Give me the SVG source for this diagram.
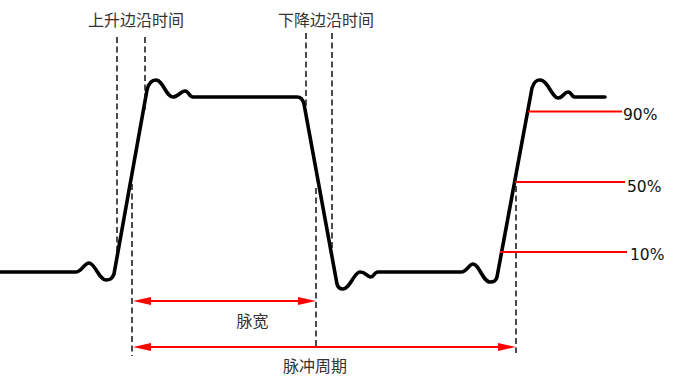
<svg xmlns="http://www.w3.org/2000/svg" width="680" height="381" viewBox="0 0 680 381">
<style>
.wave{fill:none;stroke:#000;stroke-width:3.6;stroke-linejoin:round;stroke-linecap:round}
.dash{fill:none;stroke:#111;stroke-width:1.5;stroke-dasharray:6 3.5}
.red{fill:none;stroke:#f00;stroke-width:2}
.cn{font-family:"Noto Sans CJK SC","Noto Sans CJK JP",sans-serif;font-size:16px;fill:#333}
.pct{font-family:"DejaVu Sans","Liberation Sans",sans-serif;font-size:15.5px;fill:#111}
</style>
<defs>
<marker id="ah" viewBox="0 0 18 8" refX="8" refY="4" markerWidth="18" markerHeight="8" markerUnits="userSpaceOnUse" orient="auto-start-reverse">
<path d="M0,0 L18,4 L0,8 Z" fill="#f00"/>
</marker>
</defs>
<g id="waveform">
<path class="wave" d="M0,272 L76,272 C82,272 84,263 89,263 C95,263 99,280 106,280 C110,280 112,279 114,274 L147,90 C149,82 152,80 156,80 C163,80 166,97 173,97 C178,97 181,91 185,91 C189,91 189,97 193,97 L297,97 C301,97 303,100 304,104 L337,284 C338,288 340,289 343,289 C350,289 354,272 360,272 C366,272 367,277 371,277 C374,277 374,272 378,272 L461,272 C467,272 469,264 473,264 C479,264 483,282 490,282 C494,282 496,281 497,277 L532,88 C534,82 536,80 540,80 C548,80 552,98 558,98 C563,98 564,92 568,92 C572,92 571,97 575,97 L605,97"/>
</g>
<g id="guides">
<line class="dash" x1="117" y1="37" x2="117" y2="255"/>
<line class="dash" x1="145" y1="37" x2="145" y2="110"/>
<line class="dash" x1="306" y1="33" x2="306" y2="108"/>
<line class="dash" x1="332" y1="33" x2="332" y2="253"/>
<line class="dash" x1="132" y1="184" x2="132" y2="356"/>
<line class="dash" x1="316" y1="188" x2="316" y2="346"/>
<line class="dash" x1="516" y1="186" x2="516" y2="353"/>
</g>
<g id="levels">
<line class="red" x1="528" y1="111.5" x2="622" y2="111.5"/>
<line class="red" x1="515" y1="182" x2="625" y2="182"/>
<line class="red" x1="500" y1="252" x2="627" y2="252"/>
</g>
<g id="connectors">
<line class="red" x1="143" y1="301" x2="306" y2="301" marker-start="url(#ah)" marker-end="url(#ah)"/>
<line class="red" x1="143" y1="347" x2="506" y2="347" marker-start="url(#ah)" marker-end="url(#ah)"/>
</g>
<g id="labels">
<text class="cn" x="136" y="26" text-anchor="middle">上升边沿时间</text>
<text class="cn" x="326" y="26" text-anchor="middle">下降边沿时间</text>
<text class="cn" x="252.5" y="327" text-anchor="middle">脉宽</text>
<text class="cn" x="315" y="372" text-anchor="middle">脉冲周期</text>
<text class="pct" x="623" y="119.5">90%</text>
<text class="pct" x="627" y="192">50%</text>
<text class="pct" x="630" y="259.5">10%</text>
</g>
</svg>
